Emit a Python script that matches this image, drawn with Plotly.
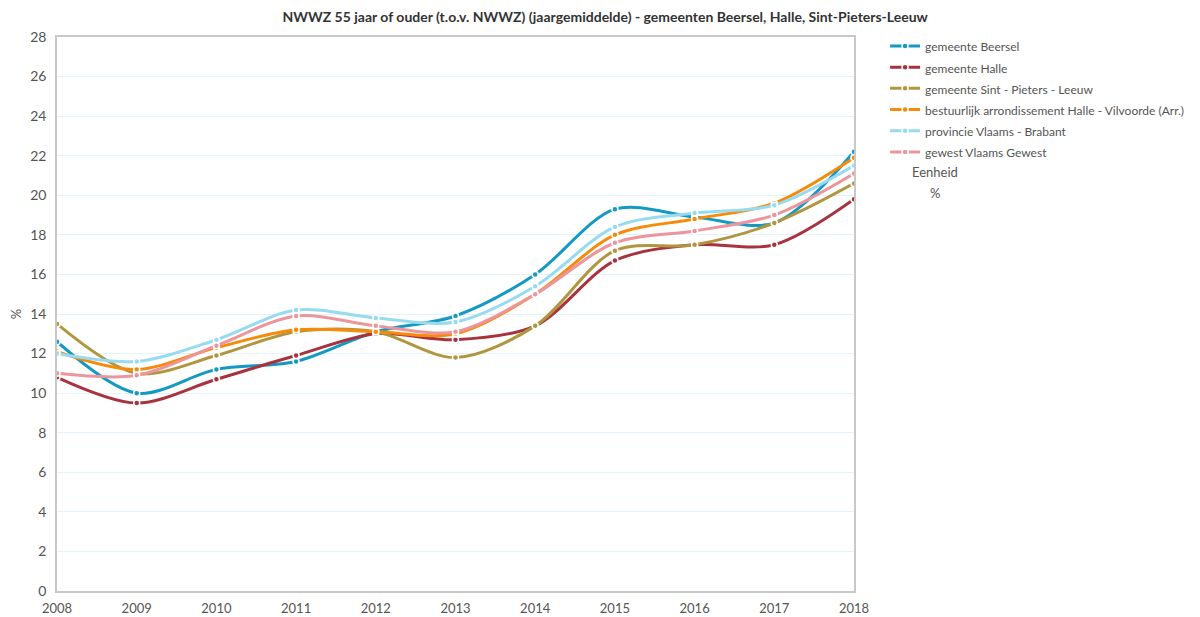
import plotly.graph_objects as go

years = [2008, 2009, 2010, 2011, 2012, 2013, 2014, 2015, 2016, 2017, 2018]

series_names = [
    "gemeente Beersel",
    "gemeente Halle",
    "gemeente Sint - Pieters - Leeuw",
    "bestuurlijk arrondissement Halle - Vilvoorde (Arr.)",
    "provincie Vlaams - Brabant",
    "gewest Vlaams Gewest",
]

beersel = [12.6, 10.0, 11.2, 11.6, 13.1, 13.9, 16.0, 19.3, 18.9, 18.6, 22.2]
halle = [10.8, 9.5, 10.7, 11.9, 13.0, 12.7, 13.4, 16.7, 17.5, 17.5, 19.8]
spl = [13.5, 11.0, 11.9, 13.1, 13.1, 11.8, 13.4, 17.2, 17.5, 18.6, 20.6]
arr = [12.1, 11.2, 12.3, 13.2, 13.1, 13.0, 15.0, 18.0, 18.8, 19.6, 21.9]
brabant = [12.0, 11.6, 12.7, 14.2, 13.8, 13.6, 15.4, 18.4, 19.1, 19.5, 21.5]
gewest = [11.0, 10.9, 12.4, 13.9, 13.4, 13.1, 15.0, 17.6, 18.2, 19.0, 21.1]

values = [beersel, halle, spl, arr, brabant, gewest]
colors = ["#1499c4", "#a8323e", "#b0973f", "#f78b09", "#96dbf0", "#ec959d"]

FONT = "Lato"

fig = go.Figure()
for name, vals, col in zip(series_names, values, colors):
    fig.add_trace(go.Scatter(
        x=years, y=vals, name=f"<span style='font-size:12px'>{name}</span>",
        mode="lines+markers",
        line=dict(color=col, width=3, shape="spline", smoothing=0.9),
        marker=dict(color=col, size=6, line=dict(color="white", width=1.5)),
    ))

# page body adds ~8px offset; figure is sized to fit inside the 1200x617 window
fig.update_layout(
    width=1192, height=609,
    paper_bgcolor="white", plot_bgcolor="white",
    margin=dict(l=49, r=346, t=29, b=26, autoexpand=False),
    font=dict(family=FONT, size=13, color="#555555"),
    title=dict(
        text="NWWZ 55 jaar of ouder (t.o.v. NWWZ) (jaargemiddelde) - gemeenten Beersel, Halle, Sint-Pieters-Leeuw",
        x=0.501, xanchor="center", y=0.985, yanchor="middle",
        font=dict(family=FONT, size=14, color="#333333", weight="bold"),
    ),
    legend=dict(
        x=1.039, y=1.012, xanchor="left", yanchor="top",
        font=dict(family=FONT, size=14, color="#555555"),
        tracegroupgap=0, itemwidth=30,
        bgcolor="rgba(0,0,0,0)",
    ),
    showlegend=True,
)

fig.update_xaxes(
    range=[2008, 2018], tickmode="array", tickvals=years, ticktext=[str(y) for y in years],
    showgrid=False, showline=True, linecolor="#c8c8c8", linewidth=1.5, mirror=True,
    ticks="", zeroline=False, tickfont=dict(size=13, color="#555555"), automargin=False,
    ticklabelstandoff=5,
)
fig.update_yaxes(
    range=[0, 28], dtick=2, showgrid=True, gridcolor="#e3f3fb", gridwidth=1,
    showline=True, linecolor="#c8c8c8", linewidth=1.5, mirror=True,
    ticks="", zeroline=False, ticklabelstandoff=6,
    tickfont=dict(size=14, color="#555555"), automargin=False,
    title=dict(text="%", font=dict(size=13, color="#555555"), standoff=22),
)

fig.add_annotation(xref="paper", yref="paper", x=1.0703, y=0.756, xanchor="left", yanchor="middle",
                   text="Eenheid", showarrow=False, font=dict(size=13, color="#555555"))
fig.add_annotation(xref="paper", yref="paper", x=1.0928, y=0.718, xanchor="left", yanchor="middle",
                   text="%", showarrow=False, font=dict(size=13, color="#555555"))

fig.write_html("out.html")
